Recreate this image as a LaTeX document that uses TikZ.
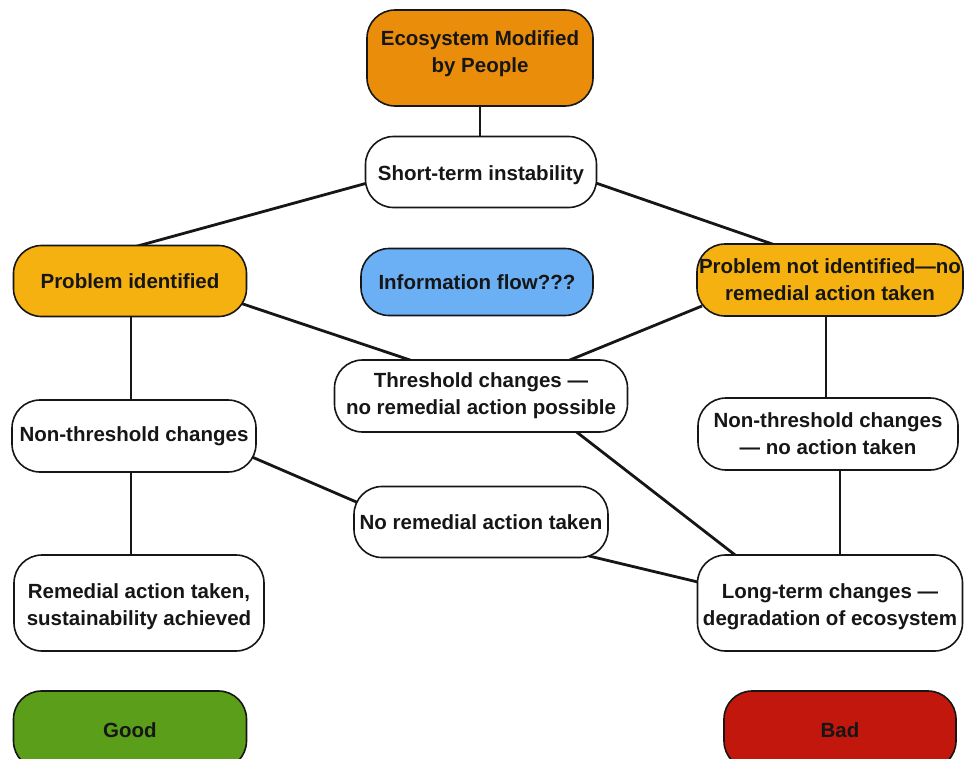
\documentclass[tikz,border=0pt]{standalone}
\usepackage{fontspec}
\setmainfont{Liberation Sans}
\usetikzlibrary{calc,backgrounds}
\definecolor{ecoorange}{HTML}{E98D0B}
\definecolor{amber}{HTML}{F5B10F}
\definecolor{infoblue}{HTML}{6BB0F4}
\definecolor{goodgreen}{HTML}{5A9E1A}
\definecolor{badred}{HTML}{C2170C}
\definecolor{ink}{HTML}{161616}
\newcommand{\liftlines}[2]{\raisebox{#1}[\height][\depth]{\begin{tabular}{@{}c@{}}#2\end{tabular}}}
\begin{document}
\begin{tikzpicture}[x=1pt,y=-1pt,
  box/.style={draw=ink,line width=1.6pt,rounded corners=28pt,fill=white,align=center,
    font=\fontsize{20.5}{27}\selectfont\bfseries,text=ink,inner sep=0pt},
  link/.style={draw=ink,line width=2.8pt}]
\useasboundingbox (0,0) rectangle (966,758);
\node[box,fill=ecoorange,minimum width=226pt,minimum height=96pt] (eco) at (480,58) {\liftlines{4pt}{Ecosystem Modified\\by People}};
\node[box,minimum width=231pt,minimum height=71pt] (short) at (481,172) {\liftlines{-3pt}{Short-term instability}};
\node[box,fill=amber,minimum width=233pt,minimum height=71pt] (pid) at (130,281) {Problem identified};
\node[box,fill=infoblue,minimum width=232pt,minimum height=67pt] (info) at (477,282) {Information flow???};
\node[box,fill=amber,minimum width=266pt,minimum height=72pt] (pnid) at (830,280) {Problem not identified—no\\remedial action taken};
\node[box,minimum width=293pt,minimum height=72pt] (thr) at (481,396) {Threshold changes —\\no remedial action possible};
\node[box,minimum width=244pt,minimum height=72pt] (ntl) at (134,436) {Non-threshold changes};
\node[box,minimum width=260pt,minimum height=72pt] (ntr) at (828,434) {Non-threshold changes\\— no action taken};
\node[box,minimum width=254pt,minimum height=71pt] (nora) at (481,522) {No remedial action taken};
\node[box,minimum width=250pt,minimum height=96pt] (rem) at (139,603) {\liftlines{-4pt}{Remedial action taken,\\sustainability achieved}};
\node[box,minimum width=265pt,minimum height=96pt] (long) at (830,603) {\liftlines{-4pt}{Long-term changes —\\degradation of ecosystem}};
\node[box,fill=goodgreen,minimum width=233pt,minimum height=78pt] (good) at (130,730) {Good};
\node[box,fill=badred,minimum width=232pt,minimum height=78pt] (bad) at (840,730) {Bad};
\begin{scope}[on background layer]
\coordinate (v1) at ($(pid.center)+(1,0)$);
\coordinate (v2) at ($(ntl.center)+(-3,0)$);
\coordinate (v3) at ($(pnid.center)+(-4,0)$);
\coordinate (v4) at ($(ntr.center)+(12,0)$);
\draw[link] (eco.center) -- (eco.center |- short.center);
\draw[link] ($(short.center)+(-110,10)$) -- ($(pid.center)+(4,-34)$);
\draw[link] ($(short.center)+(112,10)$) -- ($(pnid.center)+(-52,-34)$);
\draw[link] ($(pid.center)+(110,22)$) -- ($(thr.center)+(-65,-34)$);
\draw[link] ($(pnid.center)+(-128,26)$) -- ($(thr.center)+(84,-34)$);
\draw[link] (v1) -- (v1 |- ntl.center);
\draw[link] (v2) -- (v2 |- rem.center);
\draw[link] (v3) -- (v3 |- ntr.center);
\draw[link] (v4) -- (v4 |- long.center);
\draw[link] ($(thr.center)+(93,34)$) -- ($(long.center)+(-91,-45)$);
\draw[link] ($(ntl.center)+(118,21)$) -- ($(nora.center)+(-120,-18)$);
\draw[link] ($(nora.center)+(108,34)$) -- ($(long.center)+(-128,-20)$);
\end{scope}
\end{tikzpicture}
\end{document}
